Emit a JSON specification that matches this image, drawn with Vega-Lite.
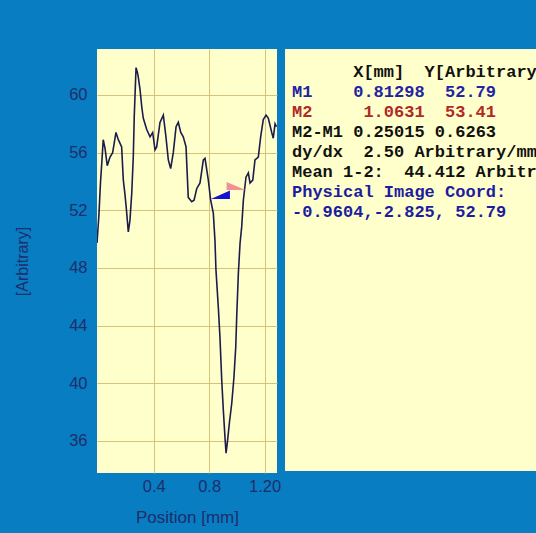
{
  "$schema": "https://vega.github.io/schema/vega-lite/v6.json",
  "width": 180,
  "height": 424,
  "autosize": {"type": "none"},
  "padding": {"left": 97, "top": 49, "right": 259, "bottom": 60},
  "background": "#087dc1",
  "config": {"view": {"fill": "#ffffcc", "stroke": null}, "font": "Liberation Sans"},
  "datasets": {
    "profile": [
      {"x": -0.010, "v": 49.73}, {"x": 0.004, "v": 51.7}, {"x": 0.015, "v": 53.9}, {"x": 0.026, "v": 55.5},
      {"x": 0.035, "v": 56.9}, {"x": 0.048, "v": 56.3}, {"x": 0.064, "v": 55.1}, {"x": 0.084, "v": 55.7},
      {"x": 0.103, "v": 56.0}, {"x": 0.127, "v": 57.4}, {"x": 0.144, "v": 56.9}, {"x": 0.168, "v": 56.4},
      {"x": 0.180, "v": 54.1}, {"x": 0.192, "v": 53.1}, {"x": 0.203, "v": 52.0}, {"x": 0.216, "v": 50.5},
      {"x": 0.228, "v": 51.3}, {"x": 0.241, "v": 53.2}, {"x": 0.252, "v": 55.7}, {"x": 0.259, "v": 58.5},
      {"x": 0.272, "v": 61.9}, {"x": 0.281, "v": 61.6}, {"x": 0.288, "v": 61.25}, {"x": 0.301, "v": 60.35},
      {"x": 0.313, "v": 59.2}, {"x": 0.324, "v": 58.4}, {"x": 0.349, "v": 57.6}, {"x": 0.373, "v": 57.1},
      {"x": 0.392, "v": 57.4}, {"x": 0.409, "v": 56.2}, {"x": 0.421, "v": 56.4}, {"x": 0.445, "v": 58.1},
      {"x": 0.469, "v": 58.6}, {"x": 0.488, "v": 57.1}, {"x": 0.505, "v": 55.5}, {"x": 0.522, "v": 54.9},
      {"x": 0.541, "v": 56.0}, {"x": 0.561, "v": 57.8}, {"x": 0.577, "v": 58.1}, {"x": 0.595, "v": 57.4},
      {"x": 0.613, "v": 57.1}, {"x": 0.633, "v": 56.4}, {"x": 0.649, "v": 52.9}, {"x": 0.674, "v": 52.6},
      {"x": 0.691, "v": 52.7}, {"x": 0.710, "v": 53.5}, {"x": 0.734, "v": 53.9}, {"x": 0.758, "v": 55.5},
      {"x": 0.770, "v": 55.6}, {"x": 0.794, "v": 54.1}, {"x": 0.811, "v": 52.7}, {"x": 0.830, "v": 51.8},
      {"x": 0.842, "v": 49.9}, {"x": 0.849, "v": 47.9}, {"x": 0.866, "v": 45.3}, {"x": 0.878, "v": 43.2},
      {"x": 0.891, "v": 40.2}, {"x": 0.902, "v": 38.2}, {"x": 0.914, "v": 36.3}, {"x": 0.922, "v": 35.15},
      {"x": 0.931, "v": 35.85}, {"x": 0.946, "v": 37.25}, {"x": 0.963, "v": 38.6}, {"x": 0.979, "v": 40.4},
      {"x": 0.992, "v": 42.5}, {"x": 0.999, "v": 44.6}, {"x": 1.011, "v": 47.65}, {"x": 1.023, "v": 49.7},
      {"x": 1.035, "v": 50.85}, {"x": 1.047, "v": 52.7}, {"x": 1.066, "v": 54.3}, {"x": 1.083, "v": 54.6},
      {"x": 1.095, "v": 53.9}, {"x": 1.115, "v": 54.1}, {"x": 1.131, "v": 55.5}, {"x": 1.155, "v": 55.7},
      {"x": 1.172, "v": 57.1}, {"x": 1.191, "v": 58.3}, {"x": 1.211, "v": 58.6}, {"x": 1.227, "v": 58.4},
      {"x": 1.252, "v": 57.4}, {"x": 1.263, "v": 57.0}, {"x": 1.276, "v": 58.0}, {"x": 1.286, "v": 57.8}
    ],
    "markers": [
      {"marker": "M1", "x": 0.81298, "v": 52.79},
      {"marker": "M2", "x": 1.0631, "v": 53.41}
    ],
    "panel": [{"left": 0, "right": 1, "top": 0, "bottom": 1}],
    "readout": [
      {"row": 1, "col": 6, "text": "X[mm]", "group": "head"},
      {"row": 1, "col": 13, "text": "Y[Arbitrary]", "group": "head"},
      {"row": 2, "col": 0, "text": "M1", "group": "M1"},
      {"row": 2, "col": 6, "text": "0.81298", "group": "M1"},
      {"row": 2, "col": 15, "text": "52.79", "group": "M1"},
      {"row": 3, "col": 0, "text": "M2", "group": "M2"},
      {"row": 3, "col": 7, "text": "1.0631", "group": "M2"},
      {"row": 3, "col": 15, "text": "53.41", "group": "M2"},
      {"row": 4, "col": 0, "text": "M2-M1 0.25015 0.6263", "group": "calc"},
      {"row": 5, "col": 0, "text": "dy/dx", "group": "calc"},
      {"row": 5, "col": 7, "text": "2.50 Arbitrary/mm", "group": "calc"},
      {"row": 6, "col": 0, "text": "Mean 1-2:", "group": "calc"},
      {"row": 6, "col": 11, "text": "44.412 Arbitrary", "group": "calc"},
      {"row": 7, "col": 0, "text": "Physical Image Coord:", "group": "coord"},
      {"row": 8, "col": 0, "text": "-0.9604,-2.825, 52.79", "group": "coord"}
    ]
  },
  "layer": [
    {
      "layer": [
        {
          "data": {"name": "profile"},
          "mark": {"type": "line", "color": "#1c1c4c", "strokeWidth": 1.6, "clip": true},
          "encoding": {
            "x": {
              "field": "x", "type": "quantitative",
              "scale": {"domain": [-0.01, 1.29], "nice": false, "zero": false},
              "axis": {
                "values": [0.4, 0.8, 1.2],
                "labelExpr": "datum.value == 1.2 ? '1.20' : format(datum.value, '.1f')",
                "domain": false, "ticks": false, "grid": true,
                "gridColor": "#d6c278", "gridWidth": 1,
                "labelColor": "#1f2d6b", "labelFont": "Liberation Sans", "labelFontSize": 16.5,
                "labelPadding": 5, "labelFlush": false,
                "title": "Position [mm]", "titleColor": "#1f2d6b", "titleFont": "Liberation Sans",
                "titleFontSize": 17, "titleFontWeight": "normal", "titleY": 44, "titleBaseline": "middle"
              }
            },
            "y": {
              "field": "v", "type": "quantitative",
              "scale": {"domain": [33.78, 63.19], "nice": false, "zero": false},
              "axis": {
                "values": [36, 40, 44, 48, 52, 56, 60],
                "domain": false, "ticks": false, "grid": true,
                "gridColor": "#d6c278", "gridWidth": 1,
                "labelColor": "#1f2d6b", "labelFont": "Liberation Sans", "labelFontSize": 16.5,
                "labelPadding": 10, "labelFlush": false,
                "title": "[Arbitrary]", "titleColor": "#1f2d6b", "titleFont": "Liberation Sans",
                "titleFontSize": 16, "titleFontWeight": "normal", "titleX": -75, "titleBaseline": "middle"
              }
            }
          }
        },
        {
          "data": {"name": "markers"},
          "mark": {"type": "point", "filled": true, "opacity": 1, "size": 361},
          "encoding": {
            "x": {"field": "x", "type": "quantitative"},
            "y": {"field": "v", "type": "quantitative"},
            "shape": {"field": "marker", "type": "nominal", "scale": {"domain": ["M1", "M2"], "range": ["M0,0L2,0L2,-0.9Z", "M0,0L-2,0L-2,-0.85Z"]}, "legend": null},
            "color": {"field": "marker", "type": "nominal", "scale": {"domain": ["M1", "M2"], "range": ["#1414d4", "#f29191"]}, "legend": null}
          }
        }
      ]
    },
    {
      "data": {"name": "panel"},
      "mark": {"type": "rect", "color": "#ffffcc"},
      "encoding": {
        "x": {"field": "left", "type": "quantitative", "scale": {"domain": [0, 1], "range": [188, 439]}, "axis": null},
        "x2": {"field": "right"},
        "y": {"field": "top", "type": "quantitative", "scale": {"domain": [0, 1], "range": [0, 422]}, "axis": null},
        "y2": {"field": "bottom"}
      }
    },
    {
      "data": {"name": "readout"},
      "mark": {"type": "text", "align": "left", "baseline": "middle", "font": "Liberation Mono", "fontWeight": "bold", "fontSize": 17},
      "encoding": {
        "x": {"field": "col", "type": "quantitative", "scale": {"domain": [0, 24], "range": [195, 439.8]}, "axis": null},
        "y": {"field": "row", "type": "quantitative", "scale": {"domain": [1, 8], "range": [23.3, 163.3]}, "axis": null},
        "text": {"field": "text"},
        "color": {"field": "group", "type": "nominal", "scale": {"domain": ["head", "M1", "M2", "calc", "coord"], "range": ["#111111", "#2323a3", "#b02a26", "#111111", "#1c1c9e"]}, "legend": null}
      }
    }
  ],
  "resolve": {"scale": {"x": "independent", "y": "independent", "color": "independent", "shape": "independent"}}
}
